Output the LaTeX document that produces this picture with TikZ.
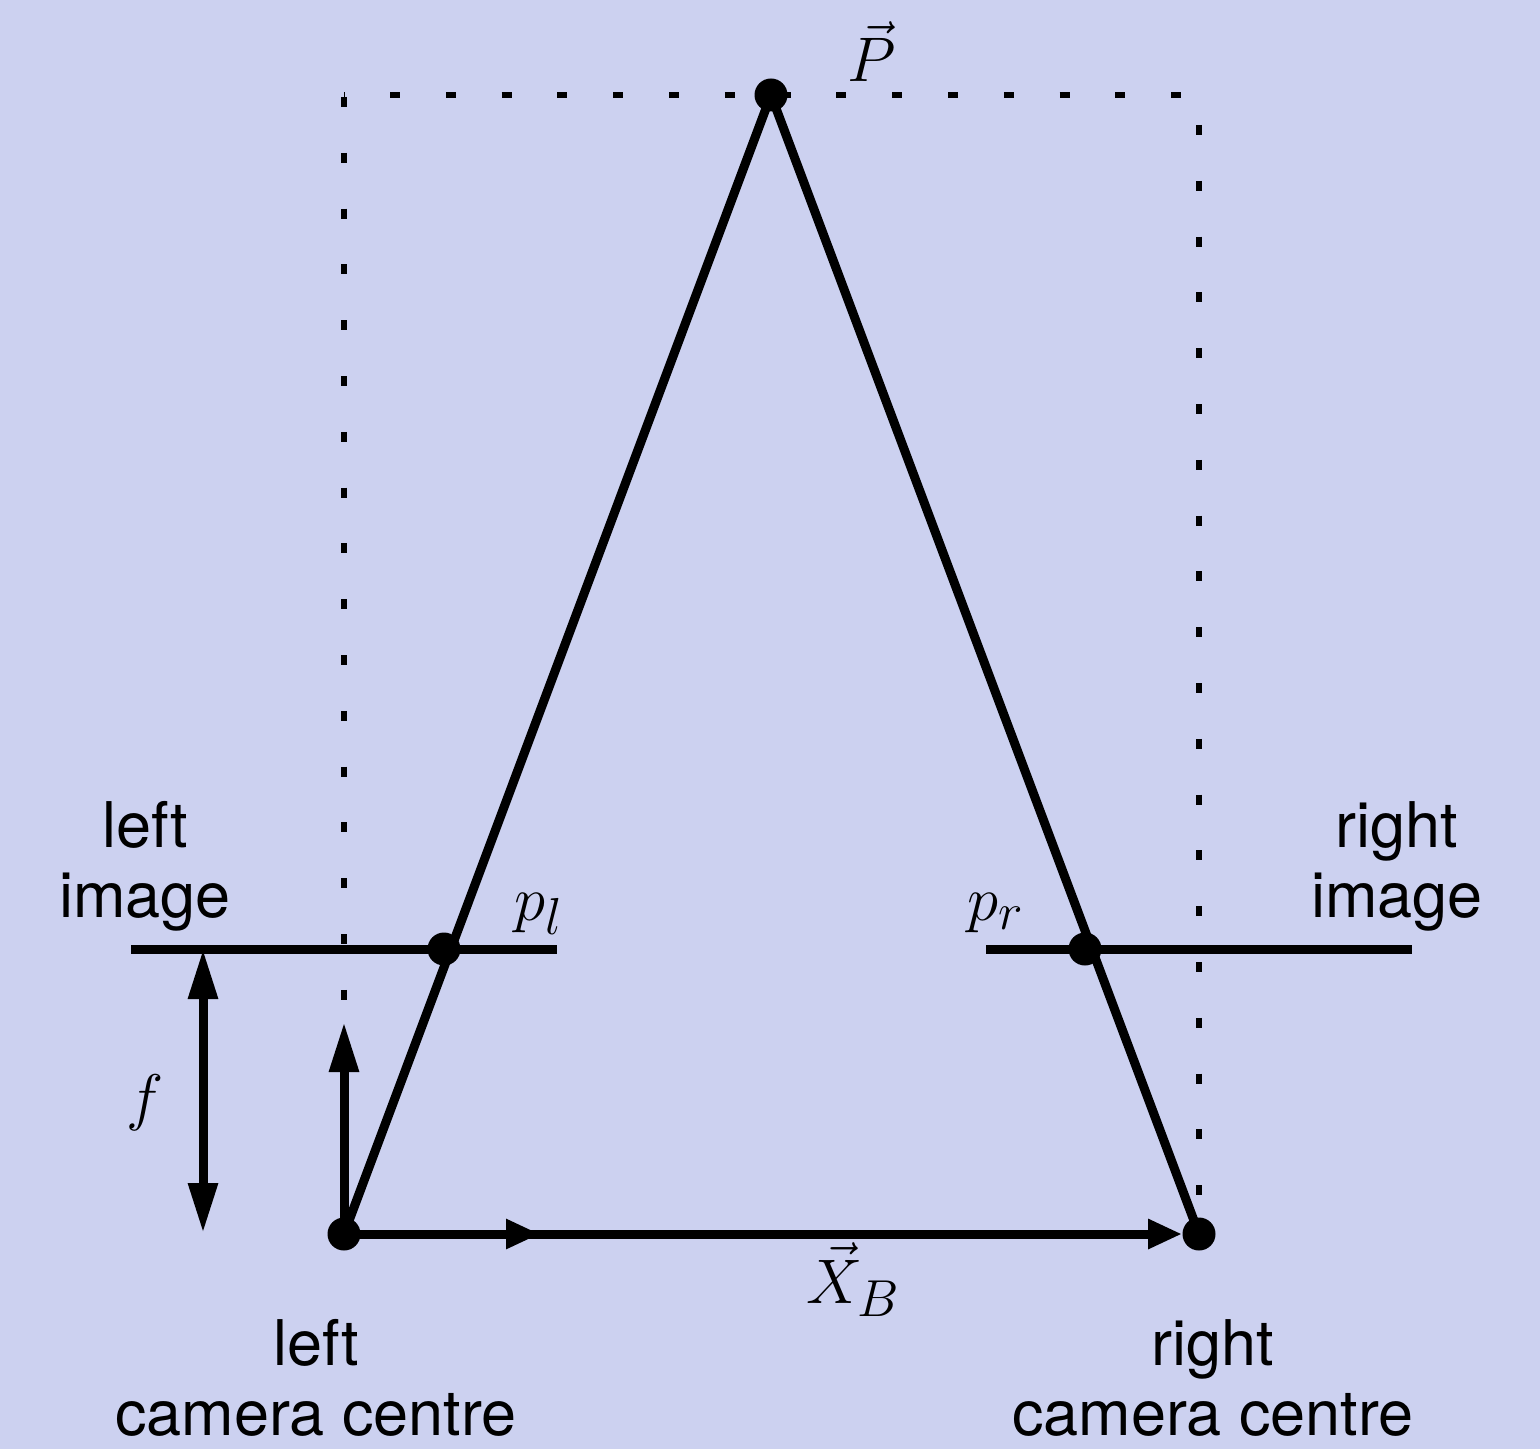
\RequirePackage{fix-cm}
\documentclass[tikz,border=0pt]{standalone}
\usepackage{fontspec}
\setmainfont{TeX Gyre Heros}
\DeclareMathSizes{31.5}{31.5}{26}{20}
\usetikzlibrary{arrows.meta,calc}
\definecolor{bgc}{RGB}{204,209,240}
\begin{document}
\begin{tikzpicture}[x=0.5pt,y=-0.5pt,
  thick line/.style={line width=4.5pt, black},
  dotline/.style={line width=2.6pt, dash pattern=on 5pt off 22.9pt},
  dotnode/.style={circle, fill=black, inner sep=0pt, minimum size=16.5pt},
  lbl/.style={font=\fontsize{31.5}{35}\selectfont, align=center, inner sep=0pt},
  mlbl/.style={font=\fontsize{31.5}{35}\selectfont, inner sep=0pt, anchor=base},
  longtip/.style={-{Triangle[length=25pt,width=14pt]}},
  shorttip/.style={-{Triangle[length=17pt,width=14pt]}}]
\fill[bgc] (0,0) rectangle (1540,1449);
\useasboundingbox (0,0) rectangle (1540,1449);
% key points
\coordinate (Pc) at (771,95);
\coordinate (Lc) at (344,1234);
\coordinate (Rc) at (1199,1234);
\coordinate (TL) at (344,95);
\coordinate (TR) at (1199,95);
\coordinate (RB) at (1199,1200);
\coordinate (plc) at (444,949);
\coordinate (prc) at (1085,949);
\coordinate (liA) at (131,949);
\coordinate (liB) at (557,949);
\coordinate (riA) at (986,949);
\coordinate (riB) at (1412,949);
\coordinate (Lup) at (344,1022);
\coordinate (midX) at (540,1234);
\coordinate (fTop) at (203,949);
\coordinate (fBot) at (203,1233);
% dotted frame
\draw[dotline, dash phase=26.9pt] (TL) -- (Lc);
\draw[dotline, dash phase=4.9pt] (TL) -- (TR);
\draw[dotline, dash phase=12.9pt] (TR) -- (RB);
% image planes
\draw[thick line] (liA) -- (liB);
\draw[thick line] (riA) -- (riB);
% rays
\draw[thick line] (Pc) -- (Lc);
\draw[thick line] (Pc) -- (Rc);
% dots
\node[dotnode] (P) at (Pc) {};
\node[dotnode] (L) at (Lc) {};
\node[dotnode] (R) at (Rc) {};
\node[dotnode] (pl) at (plc) {};
\node[dotnode] (pr) at (prc) {};
% arrows
\draw[thick line, longtip] (L.center) -- (Lup);
\draw[thick line, shorttip] (L.center) -- (R);
\draw[thick line, shorttip] (L.center) -- (midX);
\draw[thick line, {Triangle[length=25pt,width=14pt]}-{Triangle[length=25pt,width=14pt]}] (fTop) -- (fBot);
% labels
\node[mlbl] (Plbl) at (872,82) {$\vec{P}$};
\node[mlbl] (pllbl) at (539,920) {$p_l$};
\node[mlbl] (prlbl) at (996,920) {$p_r$};
\node[mlbl] (XBlbl) at (853,1303) {$\vec{X}_B$};
\node[mlbl] (flbl) at (145,1118) {$f$};
\node[lbl] (limg) at (145,866) {left\\image};
\node[lbl] (rimg) at (1397,866) {right\\image};
\node[lbl] (lcam) at (316,1378) {left\\camera centre};
\node[lbl] (rcam) at (1213,1378) {right\\camera centre};
\end{tikzpicture}
\end{document}
